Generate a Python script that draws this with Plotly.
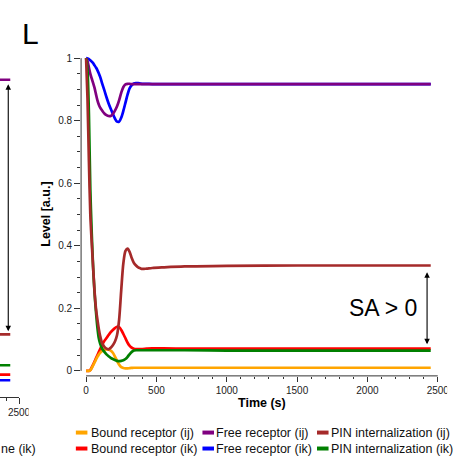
import plotly.graph_objects as go

# ---------------------------------------------------------------- data
time_s = [0, 10, 20, 30, 40, 50, 60, 70, 80, 90, 100, 115, 130, 145, 160, 175, 190,
          205, 220, 235, 250, 265, 280, 295, 310, 325, 340, 355, 370, 385, 400, 430,
          470, 550, 700, 1000, 1500, 2000, 2450]

bound_ij = [0, 0, 0, 0.002, 0.009, 0.018, 0.027, 0.036, 0.045, 0.052, 0.058,
            0.064, 0.068, 0.069, 0.068, 0.065, 0.058, 0.046, 0.032, 0.02, 0.012, 0.009,
            0.008, 0.008, 0.009, 0.0095, 0.01, 0.01, 0.01, 0.01, 0.01, 0.01, 0.01, 0.01,
            0.01, 0.01, 0.01, 0.01, 0.01]
bound_ik = [0, 0, 0, 0.003, 0.011, 0.02, 0.03, 0.04, 0.05, 0.06, 0.07,
            0.084, 0.096, 0.105, 0.115, 0.124, 0.131, 0.137, 0.141, 0.14, 0.131, 0.118,
            0.104, 0.09, 0.08, 0.074, 0.071, 0.07, 0.07, 0.07, 0.07, 0.071, 0.072, 0.072,
            0.071, 0.071, 0.071, 0.071, 0.071]
free_ij = [1.0, 0.99, 0.97, 0.95, 0.935, 0.92, 0.905, 0.885, 0.866, 0.852, 0.842,
           0.832, 0.823, 0.818, 0.815, 0.815, 0.821, 0.832, 0.846, 0.866, 0.89, 0.908,
           0.916, 0.918, 0.918, 0.917, 0.917, 0.917, 0.917, 0.917, 0.917, 0.917, 0.917,
           0.917, 0.917, 0.917, 0.917, 0.917, 0.917]
free_ik = [1.0, 0.999, 0.997, 0.993, 0.989, 0.984, 0.977, 0.97, 0.962, 0.952, 0.94,
           0.918, 0.897, 0.875, 0.855, 0.838, 0.822, 0.807, 0.797, 0.797, 0.81, 0.832,
           0.858, 0.884, 0.904, 0.914, 0.919, 0.92, 0.92, 0.919, 0.918, 0.918, 0.917,
           0.917, 0.917, 0.917, 0.917, 0.917, 0.917]
pin_ij = [1.0, 0.87, 0.67, 0.5, 0.41, 0.33, 0.255, 0.2, 0.165, 0.135, 0.111,
          0.087, 0.077, 0.071, 0.069, 0.074, 0.082, 0.094, 0.115, 0.165, 0.26, 0.345,
          0.384, 0.391, 0.38, 0.36, 0.345, 0.337, 0.331, 0.328, 0.326, 0.327, 0.329,
          0.331, 0.334, 0.336, 0.337, 0.337, 0.337]
pin_ik = [1.0, 0.96, 0.82, 0.58, 0.44, 0.33, 0.25, 0.19, 0.14, 0.105, 0.087,
          0.07, 0.061, 0.053, 0.047, 0.042, 0.038, 0.035, 0.032, 0.031, 0.032, 0.034,
          0.038, 0.045, 0.054, 0.061, 0.065, 0.066, 0.066, 0.066, 0.066, 0.066, 0.066,
          0.066, 0.066, 0.065, 0.065, 0.065, 0.065]

# tail end of the neighbouring panel (K)
left_time = [2340, 2430]
left_free_ij = [0.999, 0.999]
left_pin_ij = [0.185, 0.185]
left_pin_ik = [0.086, 0.086]
left_bound_ik = [0.056, 0.056]
left_free_ik = [0.038, 0.038]

series_names = ["Bound receptor (ij)", "Free receptor (ij)", "PIN internalization (ij)",
                "Bound receptor (ik)", "Free receptor (ik)", "PIN internalization (ik)"]
series_colors = ["#FFA500", "#800080", "#A52A2A", "#FF0000", "#0000FF", "#008000"]
series_values = [bound_ij, free_ij, pin_ij, bound_ik, free_ik, pin_ik]
draw_order = [3, 0, 4, 1, 5, 2]

y_ticks = [0, 0.2, 0.4, 0.6, 0.8, 1]
y_tick_labels = ["0", "0.2", "0.4", "0.6", "0.8", "1"]
x_ticks = [0, 500, 1000, 1500, 2000, 2500]
x_tick_labels = ["0", "500", "1000", "1500", "2000", "2500"]

# ---------------------------------------------------------------- geometry
W, H = 470, 461
SX = 1 / 0.972          # horizontal layout stretch
FONT = "Liberation Sans, Arial, Helvetica, sans-serif"
AX = "#333333"


def px(x):
    return min(1.0, x * SX / W)


def py(y):
    return 1 - y / H


# main panel: t -> x = 85.7 + 0.14 t ; level -> y = 371.7 - 313.4 v
X0, XS = 85.7, 0.14
Y0, YS = 371.7, 313.4
plot_left, plot_right = 80.7, 440.0
plot_bottom, plot_top = 376.7, 52.0
x_range = [(plot_left - X0) / XS, (plot_right - X0) / XS]
y_range = [(Y0 - plot_bottom) / YS, (Y0 - plot_top) / YS]

# neighbouring panel scale
LX_END, LXS = 19.0, 0.125
LY0 = 393.0
left_x_range = [2500 - LX_END / LXS, 2500.5]
left_y_range = [(LY0 - 398.0) / YS, (LY0 - 58.0) / YS]

fig = go.Figure()

for i in draw_order:
    fig.add_trace(go.Scatter(
        x=time_s, y=series_values[i], mode="lines", name=series_names[i],
        line=dict(color=series_colors[i], width=2.7, shape="spline", smoothing=0.8),
        showlegend=False, hoverinfo="skip"))

left_sets = [(left_free_ik, "#0000FF"), (left_bound_ik, "#FF0000"),
             (left_pin_ik, "#008000"), (left_pin_ij, "#A52A2A"), (left_free_ij, "#800080")]
for vals, col in left_sets:
    fig.add_trace(go.Scatter(x=left_time, y=vals, mode="lines", xaxis="x2", yaxis="y2",
                             line=dict(color=col, width=2.7), showlegend=False,
                             hoverinfo="skip"))

shapes = []
# offset axis lines of the main panel
shapes.append(dict(type="line", xref="paper", yref="y", x0=px(plot_left), x1=px(plot_left),
                   y0=0, y1=1, line=dict(color=AX, width=1)))
shapes.append(dict(type="line", xref="x", yref="paper", x0=0, x1=2500,
                   y0=py(plot_bottom), y1=py(plot_bottom), line=dict(color=AX, width=1)))

# legend swatches + labels
legend_cols = [75.5, 201.5, 315.5]
legend_text_x = [89.5, 213.5, 328.5]
legend_rows = [433.5, 449.5]
annotations = []
for k, (name, col) in enumerate(zip(series_names, series_colors)):
    r, c = divmod(k, 3)
    yy = legend_rows[r]
    shapes.append(dict(type="rect", xref="paper", yref="paper",
                       x0=px(legend_cols[c]), x1=px(legend_cols[c] + 11.5),
                       y0=py(yy + 2), y1=py(yy - 2), fillcolor=col,
                       line=dict(width=0)))
    annotations.append(dict(text=name, xref="paper", yref="paper", x=px(legend_text_x[c]),
                            y=py(yy), xanchor="left", yanchor="middle", showarrow=False,
                            borderpad=0, font=dict(family=FONT, size=12.5, color="#111111")))

# clipped tick labels at the panel borders
shapes.append(dict(type="rect", xref="paper", yref="paper", x0=px(445), x1=1,
                   y0=py(398), y1=py(382), fillcolor="white", line=dict(width=0),
                   layer="above"))
shapes.append(dict(type="rect", xref="paper", yref="paper", x0=px(28.5), x1=px(36),
                   y0=py(424), y1=py(408), fillcolor="white", line=dict(width=0),
                   layer="above"))

annotations += [
    dict(text="L", xref="paper", yref="paper", x=px(20), y=py(34), xanchor="left",
         yanchor="middle", showarrow=False, font=dict(family=FONT, size=30, color="black")),
    dict(text="<b>Level [a.u.]</b>", xref="paper", yref="paper", x=px(45), y=py(215),
         textangle=-90, xanchor="center", yanchor="middle", showarrow=False,
         font=dict(family=FONT, size=12.5, color="black")),
    dict(text="<b>Time (s)</b>", xref="paper", yref="paper", x=px(260.7), y=py(404),
         xanchor="center", yanchor="middle", showarrow=False,
         font=dict(family=FONT, size=12.5, color="black")),
    dict(text="SA > 0", xref="paper", yref="paper", x=px(381), y=py(309),
         xanchor="center", yanchor="middle", showarrow=False,
         font=dict(family=FONT, size=23, color="black")),
    dict(text="ne (ik)", xref="paper", yref="paper", x=0, y=py(449.5),
         xanchor="left", yanchor="middle", showarrow=False, borderpad=0,
         font=dict(family=FONT, size=12.5, color="#111111")),
    # double arrows marking the gap between the PIN internalization levels
    dict(text="", x=2424, y=0.085, ax=2424, ay=0.32, xref="x", yref="y",
         axref="x", ayref="y", showarrow=True, arrowside="end+start", arrowhead=2,
         arrowsize=1.0, arrowwidth=1.1, arrowcolor="black", standoff=0, startstandoff=0),
    dict(text="", x=2414, y=0.195, ax=2414, ay=0.989, xref="x2", yref="y2",
         axref="x2", ayref="y2", showarrow=True, arrowside="end+start", arrowhead=2,
         arrowsize=1.0, arrowwidth=1.1, arrowcolor="black", standoff=0, startstandoff=0),
]

tickfont = dict(family=FONT, size=10, color="#222222")
fig.update_layout(
    width=W, height=H, autosize=False,
    margin=dict(l=0, r=0, t=0, b=0),
    paper_bgcolor="white", plot_bgcolor="white",
    showlegend=False,
    xaxis=dict(domain=[px(plot_left), px(plot_right)], range=x_range, anchor="y",
               showgrid=False, zeroline=False, showline=False,
               tickmode="array", tickvals=x_ticks, ticktext=x_tick_labels,
               ticks="outside", ticklen=5, tickwidth=1, tickcolor=AX, tickfont=tickfont,
               minor=dict(ticks="outside", dtick=100, tick0=0, ticklen=2.5,
                          tickcolor=AX, tickwidth=1, showgrid=False)),
    yaxis=dict(domain=[py(plot_bottom), py(plot_top)], range=y_range, anchor="x",
               showgrid=False, zeroline=False, showline=False,
               tickmode="array", tickvals=y_ticks, ticktext=y_tick_labels,
               ticks="outside", ticklen=6, tickwidth=1, tickcolor=AX, tickfont=tickfont,
               minor=dict(ticks="outside", dtick=0.05, tick0=0, ticklen=3,
                          tickcolor=AX, tickwidth=1, showgrid=False)),
    xaxis2=dict(domain=[0, px(LX_END)], range=left_x_range, anchor="y2",
                showgrid=False, zeroline=False, showline=True, linecolor=AX, linewidth=1,
                tickmode="array", tickvals=[2500], ticktext=["2500"],
                ticks="outside", ticklen=6, tickwidth=1, tickcolor=AX, tickfont=tickfont,
                minor=dict(ticks="outside", dtick=100, tick0=0, ticklen=3,
                           tickcolor=AX, tickwidth=1, showgrid=False)),
    yaxis2=dict(domain=[py(398), py(58)], range=left_y_range, anchor="x2", visible=False),
    shapes=shapes,
    annotations=annotations,
)

fig.write_html("out.html", config={"staticPlot": True})
